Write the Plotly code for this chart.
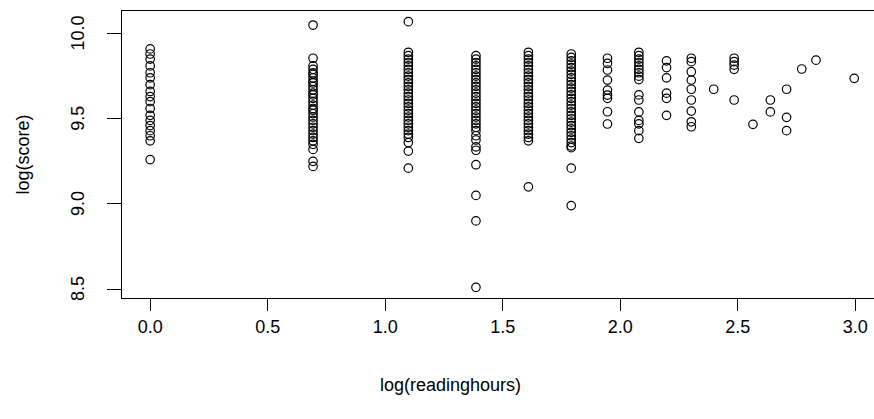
import numpy as np
import plotly.graph_objects as go

# Reading hours (raw) for each vertical column of points
hours = [1, 2, 3, 4, 5, 6, 7, 8, 9, 10, 11, 12, 13, 14, 15, 16, 17, 20]

# log(score) values, one list per reading-hours value
score_h1 = [9.91, 9.88, 9.85, 9.81, 9.77, 9.74, 9.70, 9.66, 9.63, 9.60, 9.56, 9.52,
            9.49, 9.46, 9.43, 9.40, 9.37, 9.26]
score_h2 = [10.05, 9.855, 9.81, 9.79, 9.77, 9.76, 9.74, 9.72, 9.71, 9.69, 9.67, 9.65,
            9.64, 9.62, 9.60, 9.58, 9.56, 9.55, 9.53, 9.51, 9.49, 9.47, 9.45, 9.43,
            9.41, 9.39, 9.37, 9.35, 9.32, 9.25, 9.22]
score_h3 = [10.07, 9.89, 9.87, 9.85, 9.83, 9.81, 9.79, 9.77, 9.75, 9.73, 9.71, 9.69,
            9.67, 9.65, 9.63, 9.61, 9.59, 9.57, 9.55, 9.53, 9.51, 9.49, 9.47, 9.45,
            9.43, 9.41, 9.39, 9.36, 9.31, 9.21]
score_h4 = [9.87, 9.85, 9.83, 9.81, 9.79, 9.77, 9.75, 9.73, 9.71, 9.69, 9.67, 9.65,
            9.63, 9.61, 9.59, 9.57, 9.55, 9.53, 9.51, 9.49, 9.47, 9.45, 9.43, 9.40,
            9.375, 9.335, 9.315, 9.23, 9.05, 8.90, 8.51]
score_h5 = [9.89, 9.87, 9.85, 9.83, 9.81, 9.79, 9.77, 9.75, 9.73, 9.71, 9.69, 9.67,
            9.65, 9.63, 9.61, 9.59, 9.57, 9.55, 9.53, 9.51, 9.49, 9.47, 9.45, 9.43,
            9.41, 9.39, 9.37, 9.10]
score_h6 = [9.88, 9.86, 9.84, 9.82, 9.80, 9.78, 9.76, 9.74, 9.72, 9.70, 9.68, 9.66,
            9.64, 9.62, 9.60, 9.58, 9.56, 9.54, 9.52, 9.50, 9.48, 9.46, 9.44, 9.42,
            9.40, 9.38, 9.36, 9.34, 9.33, 9.21, 8.99]
score_h7 = [9.855, 9.825, 9.786, 9.727, 9.668, 9.639, 9.620, 9.541, 9.469]
score_h8 = [9.89, 9.87, 9.85, 9.83, 9.81, 9.79, 9.77, 9.75, 9.73, 9.64, 9.61, 9.54,
            9.49, 9.47, 9.43, 9.385]
score_h9 = [9.84, 9.80, 9.74, 9.65, 9.62, 9.52]
score_h10 = [9.855, 9.835, 9.776, 9.727, 9.673, 9.61, 9.545, 9.482, 9.453]
score_h11 = [9.673]
score_h12 = [9.855, 9.835, 9.815, 9.79, 9.61]
score_h13 = [9.467]
score_h14 = [9.61, 9.54]
score_h15 = [9.673, 9.508, 9.43]
score_h16 = [9.792]
score_h17 = [9.844]
score_h20 = [9.737]

score_groups = [score_h1, score_h2, score_h3, score_h4, score_h5, score_h6, score_h7,
                score_h8, score_h9, score_h10, score_h11, score_h12, score_h13,
                score_h14, score_h15, score_h16, score_h17, score_h20]

x_ticks = [0.0, 0.5, 1.0, 1.5, 2.0, 2.5, 3.0]
x_tick_labels = ["0.0", "0.5", "1.0", "1.5", "2.0", "2.5", "3.0"]
y_ticks = [8.5, 9.0, 9.5, 10.0]
y_tick_labels = ["8.5", "9.0", "9.5", "10.0"]

xs, ys = [], []
for h, grp in zip(hours, score_groups):
    for s in grp:
        xs.append(float(np.log(h)))
        ys.append(s)

FONT = "Liberation Sans, Arial, Helvetica, sans-serif"

fig = go.Figure()
fig.add_trace(go.Scatter(
    x=xs, y=ys, mode="markers",
    marker=dict(symbol="circle-open", size=8.5, color="black", line=dict(width=1.2, color="black")),
    showlegend=False, hoverinfo="x+y",
))

W, H = 874, 419
L, R, T, B = 122, 0, 11, 121
PW = W - L - R

annotations = [
    dict(text="log(readinghours)", xref="paper", yref="paper",
         x=(450 - L) / PW, y=-(385 - (H - B)) / (H - T - B),
         xanchor="center", yanchor="middle", showarrow=False,
         font=dict(family=FONT, size=18, color="black")),
    dict(text="log(score)", xref="paper", yref="paper",
         x=-(L - 22) / PW, y=0.5, textangle=-90,
         xanchor="center", yanchor="middle", showarrow=False,
         font=dict(family=FONT, size=18, color="black")),
]
# y tick labels, rotated parallel to the axis as in base R graphics
for v, lab in zip(y_ticks, y_tick_labels):
    annotations.append(dict(
        text=lab, xref="paper", yref="y", x=-(L - 78) / PW, y=v, textangle=-90,
        xanchor="center", yanchor="middle", showarrow=False,
        font=dict(family=FONT, size=18, color="black")))

fig.update_layout(
    width=W, height=H,
    margin=dict(l=L, r=R, t=T, b=B, pad=0),
    paper_bgcolor="white", plot_bgcolor="white",
    font=dict(family=FONT, size=18, color="black"),
    xaxis=dict(
        range=[-0.1198, 3.08], tickvals=x_ticks, ticktext=x_tick_labels,
        ticks="outside", ticklen=12, tickwidth=1.2, tickcolor="black",
        showline=True, linecolor="black", linewidth=1.3, mirror=True,
        showgrid=False, zeroline=False, ticklabelstandoff=0,
        tickfont=dict(family=FONT, size=18, color="black"),
    ),
    yaxis=dict(
        range=[8.4476, 10.1324], tickvals=y_ticks, showticklabels=False,
        ticks="outside", ticklen=14, tickwidth=1.2, tickcolor="black",
        showline=True, linecolor="black", linewidth=1.3, mirror=False,
        showgrid=False, zeroline=False,
    ),
    annotations=annotations,
)

fig.write_html("out.html", config={"displayModeBar": False},
               post_script="document.body.style.margin='0';document.body.style.overflow='hidden';")
